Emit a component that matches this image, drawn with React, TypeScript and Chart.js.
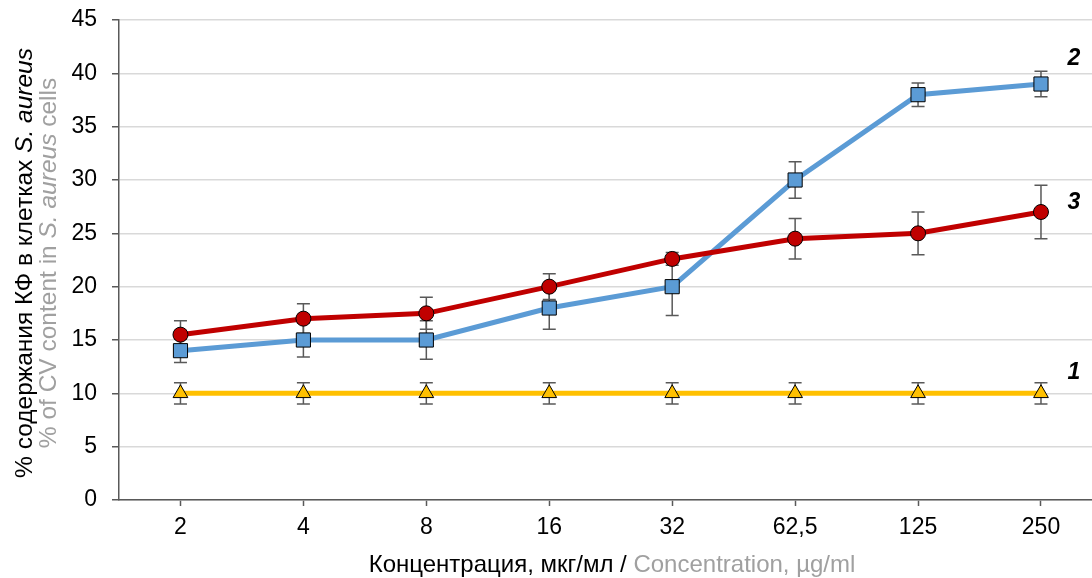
import React, { useEffect, useRef } from "react";
import { Chart, registerables } from "chart.js";

Chart.register(...registerables);

const categories = ["2", "4", "8", "16", "32", "62,5", "125", "250"];
const series1 = [10, 10, 10, 10, 10, 10, 10, 10];
const series1Err = [1, 1, 1, 1, 1, 1, 1, 1];
const series2 = [14, 15, 15, 18, 20, 30, 38, 39];
const series2Err = [1.1, 1.6, 1.8, 2, 2.7, 1.7, 1.1, 1.2];
const series3 = [15.5, 17, 17.5, 20, 22.6, 24.5, 25, 27];
const series3Err = [1.3, 1.4, 1.5, 1.2, 0.6, 1.9, 2, 2.5];
const seriesNames = ["3", "2", "1"];
const yTicks = [0, 5, 10, 15, 20, 25, 30, 35, 40, 45];

const FONT = "'Liberation Sans', Arial, sans-serif";
const GRAY = "#a0a0a0";

const errorBarsPlugin = {
  id: "errorBars",
  beforeDatasetsDraw(chart: any) {
    const ctx = chart.ctx;
    const yScale = chart.scales.y;
    ctx.save();
    ctx.strokeStyle = "#595959";
    ctx.lineWidth = 1.5;
    chart.data.datasets.forEach((ds: any, di: number) => {
      const meta = chart.getDatasetMeta(di);
      const errs: number[] = ds.errors || [];
      meta.data.forEach((pt: any, i: number) => {
        const v = ds.data[i].y;
        const e = errs[i];
        if (e == null) return;
        const x = pt.x;
        const yTop = yScale.getPixelForValue(v + e);
        const yBot = yScale.getPixelForValue(v - e);
        ctx.beginPath();
        ctx.moveTo(x, yTop);
        ctx.lineTo(x, yBot);
        ctx.moveTo(x - 6.5, yTop);
        ctx.lineTo(x + 6.5, yTop);
        ctx.moveTo(x - 6.5, yBot);
        ctx.lineTo(x + 6.5, yBot);
        ctx.stroke();
      });
    });
    ctx.restore();
  },
};

const labelsPlugin = {
  id: "customLabels",
  afterDraw(chart: any) {
    const ctx = chart.ctx;
    ctx.save();
    ctx.font = `italic bold 23px ${FONT}`;
    ctx.fillStyle = "#000";
    ctx.textAlign = "center";
    ctx.textBaseline = "middle";
    const offsets = [-9, -25, -21];
    chart.data.datasets.forEach((ds: any, di: number) => {
      const meta = chart.getDatasetMeta(di);
      const last = meta.data[meta.data.length - 1];
      ctx.fillText(seriesNames[di], last.x + 33, last.y + offsets[di]);
    });

    const drawSegments = (segs: { t: string; f: string; c: string }[], cx: number, cy: number) => {
      let total = 0;
      segs.forEach((s) => {
        ctx.font = s.f;
        total += ctx.measureText(s.t).width;
      });
      let x = cx - total / 2;
      ctx.textAlign = "left";
      ctx.textBaseline = "middle";
      segs.forEach((s) => {
        ctx.font = s.f;
        ctx.fillStyle = s.c;
        ctx.fillText(s.t, x, cy);
        x += ctx.measureText(s.t).width;
      });
    };

    const fx = `24px ${FONT}`;
    drawSegments(
      [
        { t: "Концентрация, мкг/мл / ", f: fx, c: "#000" },
        { t: "Concentration, µg/ml", f: fx, c: GRAY },
      ],
      612,
      565
    );
    const f = `24.5px ${FONT}`;
    const fi = `italic 24.5px ${FONT}`;
    ctx.save();
    ctx.rotate(-Math.PI / 2);
    drawSegments(
      [
        { t: "% содержания КФ в клетках ", f, c: "#000" },
        { t: "S. aureus", f: fi, c: "#000" },
      ],
      -263,
      25
    );
    drawSegments(
      [
        { t: "% of CV content in ", f, c: GRAY },
        { t: "S. aureus", f: fi, c: GRAY },
        { t: " cells", f, c: GRAY },
      ],
      -263,
      49
    );
    ctx.restore();
    ctx.restore();
  },
};

export default function App() {
  const ref = useRef<HTMLCanvasElement>(null);
  useEffect(() => {
    const toPts = (arr: number[]) => arr.map((y, i) => ({ x: i, y }));
    const chart = new Chart(ref.current!, {
      type: "line",
      data: {
        datasets: [
          {
            label: "3",
            data: toPts(series3),
            errors: series3Err,
            borderColor: "#C00000",
            backgroundColor: "#C00000",
            pointBackgroundColor: "#C00000",
            pointBorderColor: "#000",
            pointBorderWidth: 1,
            pointStyle: "circle",
            pointRadius: 7.5,
            borderWidth: 5,
          } as any,
          {
            label: "2",
            data: toPts(series2),
            errors: series2Err,
            borderColor: "#5B9BD5",
            backgroundColor: "#5B9BD5",
            pointBackgroundColor: "#5B9BD5",
            pointBorderColor: "#000",
            pointBorderWidth: 1,
            pointStyle: "rect",
            pointRadius: 10,
            borderWidth: 5,
          } as any,
          {
            label: "1",
            data: toPts(series1),
            errors: series1Err,
            borderColor: "#FFC000",
            backgroundColor: "#FFC000",
            pointBackgroundColor: "#FFC000",
            pointBorderColor: "#000",
            pointBorderWidth: 1,
            pointStyle: "triangle",
            pointRadius: 8.5,
            borderWidth: 5,
          } as any,
        ],
      },
      options: {
        responsive: false,
        animation: false,
        layout: { autoPadding: false, padding: { top: 20, left: 0, right: 0, bottom: 0 } },
        plugins: { legend: { display: false }, tooltip: { enabled: false } },
        scales: {
          x: {
            type: "linear",
            min: -0.5,
            max: 7.415,
            afterBuildTicks: (scale: any) => {
              scale.ticks = categories.map((_, i) => ({ value: i }));
            },
            afterFit: (scale: any) => {
              scale.height = 78;
              scale.paddingLeft = 0;
              scale.paddingRight = 0;
            },
            ticks: {
              callback: (v: any) => categories[v] ?? "",
              font: { family: FONT, size: 23 },
              color: "#000",
              padding: 8,
              maxRotation: 0,
              autoSkip: false,
            },
            grid: {
              drawOnChartArea: false,
              drawTicks: true,
              tickLength: 6,
              tickColor: "#595959",
              tickWidth: 1.5,
            },
            border: { display: true, color: "#595959", width: 1.5 },
          },
          y: {
            min: 0,
            max: 45,
            afterBuildTicks: (scale: any) => {
              scale.ticks = yTicks.map((v) => ({ value: v }));
            },
            afterFit: (scale: any) => {
              scale.width = 119;
              scale.paddingTop = 0;
              scale.paddingBottom = 0;
            },
            ticks: {
              font: { family: FONT, size: 23 },
              color: "#000",
              padding: 15,
            },
            grid: {
              color: "#d9d9d9",
              lineWidth: 1.5,
              tickLength: 7,
              tickColor: "#595959",
              tickWidth: 1.5,
            },
            border: { display: true, color: "#595959", width: 1.5 },
          },
        },
      } as any,
      plugins: [errorBarsPlugin, labelsPlugin],
    });
    return () => chart.destroy();
  }, []);
  return (
    <div style={{ position: "absolute", left: 0, top: 0, width: 1092, height: 578, background: "#fff" }}>
      <canvas ref={ref} width={1092} height={578} />
    </div>
  );
}
